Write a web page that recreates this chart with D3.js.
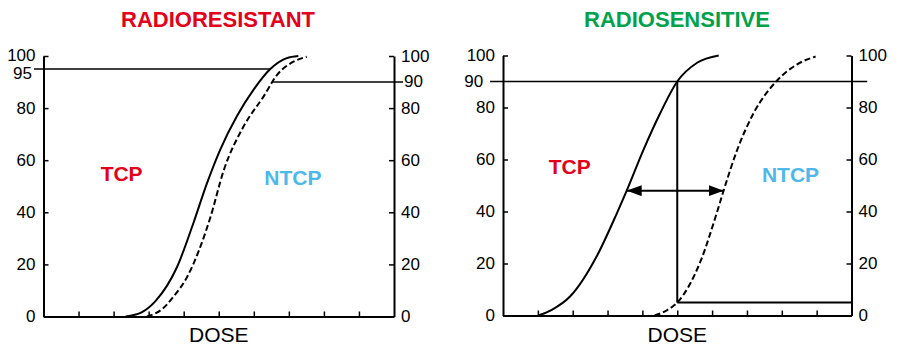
<!DOCTYPE html>
<html>
<head>
<meta charset="utf-8">
<script src="https://cdn.jsdelivr.net/npm/d3@7"></script>
<style>
  body { margin: 0; background: #fff; }
  svg { display: block; }
  text { font-family: "Liberation Sans", Arial, Helvetica, sans-serif; }
</style>
</head>
<body>
<svg id="chart" width="898" height="347"></svg>
<script>
// Dose axis in arbitrary units (0–10), probability axes in percent
const doseTicks = [1, 2, 3, 4, 5, 6, 7, 8, 9];
const pctTicks = [0, 20, 40, 60, 80, 100];

// Radioresistant tumour: TCP and NTCP curves lie almost on top of each other
const resistantTCP = [[2.34, 0], [2.8, 1.6], [3.2, 6], [3.81, 19], [4.28, 36], [4.66, 51],
  [5.04, 64], [5.52, 77], [5.99, 87], [6.47, 95], [6.94, 99.2], [7.27, 100]];
const resistantNTCP = [[2.95, 0], [3.4, 3], [3.7, 7.5], [4.09, 15], [4.76, 38], [5.14, 56],
  [5.71, 73], [6.28, 84.5], [6.66, 92.7], [7.13, 97.8], [7.51, 99.7]];

// Radiosensitive tumour: TCP well separated from NTCP
const sensitiveTCP = [[1.01, 0], [1.4, 2.2], [1.93, 7.4], [2.69, 22.8], [3.27, 39.4], [3.55, 48],
  [4.03, 63.7], [4.51, 77.8], [5.0, 90], [5.57, 97.2], [6.19, 100]];
const sensitiveNTCP = [[4.35, 0], [4.7, 2], [5.0, 5], [5.66, 20.6], [6.14, 39.7], [6.33, 48],
  [6.72, 63.7], [7.19, 77.8], [7.86, 90.3], [8.44, 96.6], [8.97, 99.6]];

// Reference levels (percent) and the dose span each guide line covers
const resistantTcpLevel = [95, -0.27, 6.47];     // level, from dose, to dose
const resistantNtcpLevel = [90, 6.53, 10.26];
const sensitiveLevel = [90, -0.37, 10.45];
const sensitiveDose = 5;
const sensitiveNtcpAtDose = 5;
const windowArrow = [48, 3.55, 6.33];            // level, TCP dose, NTCP dose

const titles = ["RADIORESISTANT", "RADIOSENSITIVE"];
const axisTitle = "DOSE";
const curveLabels = ["TCP", "NTCP"];
// label anchors in data units [dose, percent]
const resistantLabelPos = [[1.63, 52], [6.3, 50.5]];
const sensitiveLabelPos = [[1.31, 54.5], [7.43, 51.5]];

const RED = "#e2001a", GREEN = "#00a14b", BLUE = "#4db8e9";

const svg = d3.select("#chart");

// arrowhead marker for the therapeutic-window arrow
svg.append("defs").append("marker")
  .attr("id", "head")
  .attr("viewBox", "0 0 15 11")
  .attr("refX", 15).attr("refY", 5.5)
  .attr("markerWidth", 15).attr("markerHeight", 11)
  .attr("markerUnits", "userSpaceOnUse")
  .attr("orient", "auto-start-reverse")
  .append("path").attr("d", "M0,0 L15,5.5 L0,11 Z").attr("fill", "#000");

function styleAxis(sel) {
  sel.select(".domain").attr("stroke", "#000").attr("stroke-width", 2);
  sel.selectAll(".tick line").attr("stroke", "#000").attr("stroke-width", 1.5);
  sel.selectAll(".tick text").attr("fill", "#000").attr("font-size", 17)
    .attr("font-family", "'Liberation Sans', Arial, sans-serif");
  sel.attr("font-family", null).attr("font-size", null);
}

function drawPanel(cfg) {
  const x = d3.scaleLinear([0, 10], [cfg.left, cfg.right]);
  const y = d3.scaleLinear([0, 100], [cfg.bottom, cfg.top]);
  const g = svg.append("g");

  // title
  g.append("text")
    .attr("x", cfg.titleX).attr("y", 27)
    .attr("text-anchor", "middle")
    .attr("font-size", 22).attr("font-weight", "bold")
    .attr("fill", cfg.titleColor)
    .text(cfg.title);

  // axes
  const leftAxis = g.append("g").attr("transform", `translate(${cfg.left},0)`)
    .call(d3.axisLeft(y).tickValues(pctTicks).tickSizeInner(-5).tickSizeOuter(0)
      .tickPadding(8).tickFormat(d3.format("d")))
    .call(styleAxis);
  if (cfg.raiseTop) {
    // leave room for the guide-line label just below
    leftAxis.selectAll(".tick text").filter(d => d === 100).attr("dy", "0.25em");
  }
  g.append("g").attr("transform", `translate(${cfg.right},0)`)
    .call(d3.axisRight(y).tickValues(pctTicks).tickSizeInner(-5).tickSizeOuter(0)
      .tickPadding(7).tickFormat(d3.format("d")))
    .call(styleAxis);
  g.append("g").attr("transform", `translate(0,${cfg.bottom})`)
    .call(d3.axisBottom(x).tickValues(doseTicks).tickSizeInner(-5).tickSizeOuter(0)
      .tickFormat(""))
    .call(styleAxis);

  g.append("text")
    .attr("x", x(5)).attr("y", 342)
    .attr("text-anchor", "middle").attr("font-size", 21)
    .text(axisTitle);

  const line = d3.line().x(d => x(d[0])).y(d => y(d[1])).curve(d3.curveMonotoneX);

  g.append("path").datum(cfg.tcp).attr("d", line)
    .attr("fill", "none").attr("stroke", "#000").attr("stroke-width", 2);
  g.append("path").datum(cfg.ntcp).attr("d", line)
    .attr("fill", "none").attr("stroke", "#000").attr("stroke-width", 2)
    .attr("stroke-dasharray", "6,3");

  // curve labels
  g.selectAll(".clabel").data(curveLabels).join("text")
    .attr("x", (d, i) => x(cfg.labelPos[i][0]))
    .attr("y", (d, i) => y(cfg.labelPos[i][1]))
    .attr("font-size", 21).attr("font-weight", "bold")
    .attr("fill", (d, i) => i === 0 ? RED : BLUE)
    .text(d => d);

  return { g, x, y };
}

// guide line helper
function hline(p, lvl, w) {
  p.g.append("line")
    .attr("x1", p.x(lvl[1])).attr("x2", p.x(lvl[2]))
    .attr("y1", p.y(lvl[0])).attr("y2", p.y(lvl[0]))
    .attr("stroke", "#000").attr("stroke-width", w || 1.5);
}

// ---- left panel: radioresistant ----
const L = drawPanel({
  left: 43.5, right: 394, top: 56, bottom: 316.5, raiseTop: true,
  title: titles[0], titleX: 218, titleColor: RED,
  tcp: resistantTCP, ntcp: resistantNTCP, labelPos: resistantLabelPos
});
hline(L, resistantTcpLevel);
hline(L, resistantNtcpLevel);
L.g.append("text")
  .attr("x", L.x(resistantTcpLevel[1]) - 2).attr("y", L.y(resistantTcpLevel[0]))
  .attr("dy", "0.6em").attr("text-anchor", "end").attr("font-size", 17)
  .text(resistantTcpLevel[0]);
L.g.append("text")
  .attr("x", L.x(resistantNtcpLevel[2]) + 1).attr("y", L.y(resistantNtcpLevel[0]))
  .attr("dy", "0.32em").attr("text-anchor", "start").attr("font-size", 17)
  .text(resistantNtcpLevel[0]);

// ---- right panel: radiosensitive ----
const R = drawPanel({
  left: 503, right: 851.5, top: 55.5, bottom: 315.5,
  title: titles[1], titleX: 677, titleColor: GREEN,
  tcp: sensitiveTCP, ntcp: sensitiveNTCP, labelPos: sensitiveLabelPos
});
hline(R, sensitiveLevel);
R.g.append("text")
  .attr("x", R.x(sensitiveLevel[1]) - 7).attr("y", R.y(sensitiveLevel[0]))
  .attr("dy", "0.32em").attr("text-anchor", "end").attr("font-size", 17)
  .text(sensitiveLevel[0]);
// dose at which TCP reaches 90 %, dropping to the NTCP it produces
R.g.append("line")
  .attr("x1", R.x(sensitiveDose)).attr("x2", R.x(sensitiveDose))
  .attr("y1", R.y(sensitiveLevel[0])).attr("y2", R.y(sensitiveNtcpAtDose))
  .attr("stroke", "#000").attr("stroke-width", 2);
hline(R, [sensitiveNtcpAtDose, sensitiveDose, 10], 2);
// therapeutic window arrow
R.g.append("line")
  .attr("x1", R.x(windowArrow[1])).attr("x2", R.x(windowArrow[2]))
  .attr("y1", R.y(windowArrow[0])).attr("y2", R.y(windowArrow[0]))
  .attr("stroke", "#000").attr("stroke-width", 2)
  .attr("marker-start", "url(#head)").attr("marker-end", "url(#head)");
</script>
</body>
</html>
